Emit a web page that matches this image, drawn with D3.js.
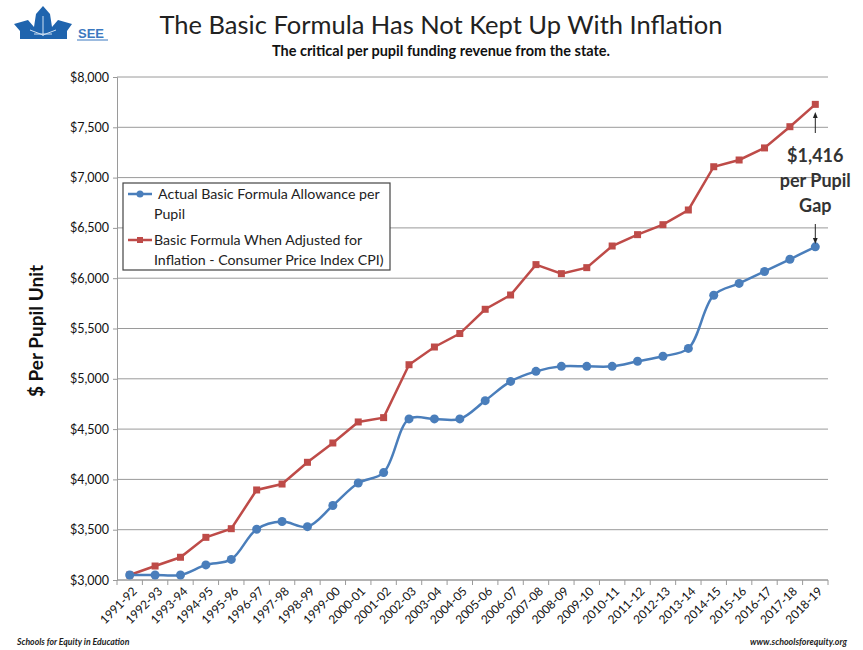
<!DOCTYPE html>
<html><head><meta charset="utf-8">
<script src="https://cdn.jsdelivr.net/npm/d3@7"></script>
<style>body{margin:0;background:#fff}svg{display:block}</style>
</head><body>
<script>
const categories = ["1991-92","1992-93","1993-94","1994-95","1995-96","1996-97","1997-98","1998-99","1999-00","2000-01","2001-02","2002-03","2003-04","2004-05","2005-06","2006-07","2007-08","2008-09","2009-10","2010-11","2011-12","2012-13","2013-14","2014-15","2015-16","2016-17","2017-18","2018-19"];
const actual = [3050,3050,3050,3150,3205,3505,3581,3530,3740,3964,4068,4601,4601,4601,4783,4974,5074,5124,5124,5124,5174,5224,5302,5831,5948,6067,6188,6312];
const inflation = [3050,3139,3226,3424,3510,3895,3954,4170,4362,4571,4614,5140,5316,5450,5691,5833,6135,6045,6105,6320,6433,6532,6678,7108,7175,7295,7506,7728];
const yTicks = [3000,3500,4000,4500,5000,5500,6000,6500,7000,7500,8000];
const seriesNames = ["Actual Basic Formula Allowance per|Pupil","Basic Formula When Adjusted for|Inflation - Consumer Price Index CPI)"];
const gapText = ["$1,416","per Pupil","Gap"];

const W=863,H=650;
const svg=d3.select("body").append("svg").attr("width",W).attr("height",H);
const font="Lato, 'Open Sans', sans-serif";
const L=117,R=828,T=77,B=580;
const x=d3.scaleBand().domain(categories).range([L,R]);
const y=d3.scaleLinear().domain([3000,8000]).range([B,T]);
const cx=d=>x(d)+x.bandwidth()/2;
const blue="#4A7EBB", red="#BE4B48";

// gridlines
svg.append("g").selectAll("line").data(yTicks).join("line")
  .attr("x1",L).attr("x2",R).attr("y1",d=>y(d)).attr("y2",d=>y(d))
  .attr("stroke","#9a9a9a").attr("stroke-width",1);

// y axis
const ya=svg.append("g").attr("transform",`translate(${L},0)`)
  .call(d3.axisLeft(y).tickValues(yTicks).tickSize(4).tickFormat(d=>"$"+d3.format(",")(d)));
ya.select(".domain").attr("stroke","#9a9a9a");
ya.selectAll(".tick line").attr("stroke","#9a9a9a");
ya.selectAll("text").attr("font-family",font).attr("font-size",12.5).attr("fill","#111").attr("x",-8);

// x axis
const xa=svg.append("g").attr("transform",`translate(0,${B})`);
xa.append("line").attr("x1",L).attr("x2",R).attr("stroke","#9a9a9a");
const bounds=categories.map(c=>x(c)).concat([R]);
xa.selectAll("line.t").data(bounds).join("line").attr("class","t")
  .attr("x1",d=>d).attr("x2",d=>d).attr("y1",0).attr("y2",5).attr("stroke","#9a9a9a");
xa.selectAll("text").data(categories).join("text")
  .attr("transform",d=>`translate(${cx(d)+5},${9}) rotate(-45)`)
  .attr("text-anchor","end").attr("dy","0.35em")
  .attr("font-family",font).attr("font-size",12).attr("fill","#111").text(d=>d);

// lines
const lineS=d3.line().x((d,i)=>cx(categories[i])).y(d=>y(d)).curve(d3.curveCatmullRom.alpha(0.5));
const lineR=d3.line().x((d,i)=>cx(categories[i])).y(d=>y(d));
svg.append("path").datum(inflation).attr("d",lineR).attr("fill","none").attr("stroke",red).attr("stroke-width",2.5);
svg.append("path").datum(actual).attr("d",lineS).attr("fill","none").attr("stroke",blue).attr("stroke-width",2.5);
svg.append("g").selectAll("rect").data(inflation).join("rect")
  .attr("x",(d,i)=>cx(categories[i])-3.5).attr("y",d=>y(d)-3.5).attr("width",7).attr("height",7).attr("fill",red);
svg.append("g").selectAll("circle").data(actual).join("circle")
  .attr("cx",(d,i)=>cx(categories[i])).attr("cy",d=>y(d)).attr("r",4.5).attr("fill",blue);

// legend
const lg=svg.append("g");
lg.append("rect").attr("x",123).attr("y",183).attr("width",267).attr("height",87)
  .attr("fill","#fff").attr("stroke","#444").attr("stroke-width",1.2);
[[blue,"c",194],[red,"s",240]].forEach((s,i)=>{
  lg.append("line").attr("x1",128).attr("x2",152).attr("y1",s[2]).attr("y2",s[2]).attr("stroke",s[0]).attr("stroke-width",2.5);
  if(s[1]==="c") lg.append("circle").attr("cx",140).attr("cy",s[2]).attr("r",3.5).attr("fill",s[0]);
  else lg.append("rect").attr("x",137).attr("y",s[2]-3).attr("width",6).attr("height",6).attr("fill",s[0]);
  const lines=seriesNames[i].split("|");
  lines.forEach((t,j)=>{
    lg.append("text").attr("x",i===0&&j===0?158:154).attr("y",s[2]+j*20).attr("dy","0.35em")
      .attr("font-family",font).attr("font-size",14.2).attr("fill","#222").text(t);
  });
});

// annotation
const ax=cx(categories[27]);
svg.append("defs").append("marker").attr("id","ah").attr("viewBox","0 0 10 10").attr("refX",5).attr("refY",5)
  .attr("markerWidth",6).attr("markerHeight",6).attr("orient","auto-start-reverse")
  .append("path").attr("d","M0,1 L10,5 L0,9 z").attr("fill","#222");
svg.append("line").attr("x1",ax).attr("x2",ax).attr("y1",133).attr("y2",115).attr("stroke","#222").attr("stroke-width",1).attr("marker-end","url(#ah)");
svg.append("line").attr("x1",ax).attr("x2",ax).attr("y1",224).attr("y2",241).attr("stroke","#222").attr("stroke-width",1).attr("marker-end","url(#ah)");
gapText.forEach((t,i)=>{
  svg.append("text").attr("x",ax).attr("y",156+i*25).attr("dy","0.35em").attr("text-anchor","middle")
    .attr("font-family",font).attr("font-weight","bold").attr("font-size",18).attr("fill","#333").text(t);
});

// y label
svg.append("text").attr("transform","translate(36,331) rotate(-90)").attr("text-anchor","middle").attr("dy","0.35em")
  .attr("font-family",font).attr("font-weight","bold").attr("font-size",19).attr("fill","#111").text("$ Per Pupil Unit");

// title
svg.append("text").attr("x",441).attr("y",25).attr("text-anchor","middle").attr("dy","0.35em")
  .attr("font-family",font).attr("font-size",25.5).attr("fill","#222").text("The Basic Formula Has Not Kept Up With Inflation");
svg.append("text").attr("x",441).attr("y",51).attr("text-anchor","middle").attr("dy","0.35em")
  .attr("font-family",font).attr("font-weight","bold").attr("font-size",14.5).attr("fill","#111").text("The critical per pupil funding revenue from the state.");

// logo
const lgo=svg.append("g");
lgo.append("path").attr("d","M14,24 L28,20 L34,27 L36,14 L43,6 L50,14 L52,27 L58,20 L72,24 L67,31 L67,39 L20,39 L20,31 Z").attr("fill","#1f64ae");
lgo.append("path").attr("d","M43,16 L43,36 M34,34 L52,34 M30,30 L43,35 L56,30").attr("stroke","#cfe0f2").attr("stroke-width",1).attr("fill","none");
lgo.append("text").attr("x",78).attr("y",38).attr("font-family","Arial, sans-serif").attr("font-weight","bold").attr("font-size",13).attr("fill","#3b78c0").text("SEE");
lgo.append("line").attr("x1",77).attr("x2",108).attr("y1",40).attr("y2",40).attr("stroke","#3b78c0").attr("stroke-width",1);

// footer
svg.append("text").attr("x",17).attr("y",645).attr("font-family",font).attr("font-style","italic").attr("font-weight","bold").attr("font-size",8.7).attr("fill","#222").text("Schools for Equity in Education");
svg.append("text").attr("x",847).attr("y",645).attr("text-anchor","end").attr("font-family",font).attr("font-style","italic").attr("font-weight","bold").attr("font-size",8.9).attr("fill","#222").text("www.schoolsforequity.org");
</script>
</body></html>
